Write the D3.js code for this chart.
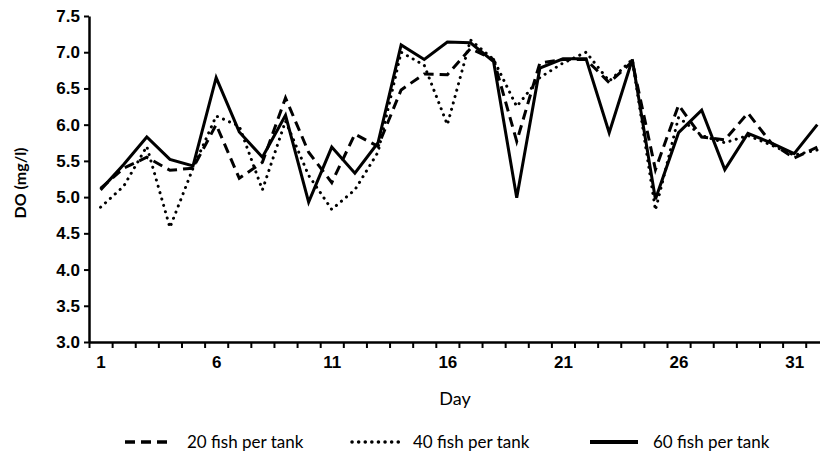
<!DOCTYPE html>
<html>
<head>
<meta charset="utf-8">
<script src="https://cdn.jsdelivr.net/npm/d3@7"></script>
<style>
  body { margin: 0; background: #fff; }
  svg { display: block; font-family: Lato, "Open Sans", sans-serif; }
</style>
</head>
<body>
<svg width="820" height="457"></svg>
<script>
var svg = d3.select("svg");

// days on the x axis
var days = d3.range(1, 33);

// DO (mg/l) for each stocking density
var fish20 = [5.12, 5.4, 5.55, 5.37, 5.4, 6.0, 5.26, 5.48, 6.37, 5.62, 5.2, 5.87, 5.7, 6.48, 6.7, 6.69, 7.05, 6.9, 5.77, 6.85, 6.9, 6.9, 6.58, 6.87, 5.38, 6.27, 5.83, 5.79, 6.16, 5.75, 5.54, 5.69];
var fish40 = [4.86, 5.15, 5.7, 4.58, 5.4, 6.12, 5.98, 5.1, 6.05, 5.3, 4.83, 5.1, 5.62, 7.0, 6.82, 6.0, 7.17, 6.9, 6.25, 6.65, 6.85, 7.0, 6.6, 6.9, 4.82, 6.1, 5.85, 5.75, 5.85, 5.72, 5.58, 5.65];
var fish60 = [5.1, 5.45, 5.83, 5.52, 5.43, 6.65, 5.9, 5.55, 6.13, 4.93, 5.69, 5.33, 5.75, 7.1, 6.9, 7.14, 7.13, 6.87, 4.99, 6.78, 6.91, 6.91, 5.89, 6.9, 4.97, 5.89, 6.2, 5.38, 5.88, 5.75, 5.6, 6.0];

var seriesNames = ["20 fish per tank", "40 fish per tank", "60 fish per tank"];
var yTicks = [3.0, 3.5, 4.0, 4.5, 5.0, 5.5, 6.0, 6.5, 7.0, 7.5];
var xLabels = [1, 6, 11, 16, 21, 26, 31];

var plotLeft = 89, plotTop = 16, plotBottom = 342, step = 23.12;

var x = d3.scaleLinear().domain([0.5, 32.5]).range([plotLeft, plotLeft + 32 * step]);
var y = d3.scaleLinear().domain([3, 7.5]).range([plotBottom, plotTop]);

var series = [
  { name: seriesNames[0], values: fish20, dash: "10,6", cap: "butt" },
  { name: seriesNames[1], values: fish40, dash: "0.1,6.5", cap: "round" },
  { name: seriesNames[2], values: fish60, dash: null, cap: "butt" }
];

var line = d3.line()
  .x(function(d, i) { return x(days[i]); })
  .y(function(d) { return y(d); });

// lines
var g = svg.append("g");
g.selectAll("path.series")
  .data(series)
  .enter().append("path")
  .attr("class", "series")
  .attr("d", function(d) { return line(d.values); })
  .attr("fill", "none")
  .attr("stroke", "#000")
  .attr("stroke-width", 3)
  .attr("stroke-linejoin", "miter")
  .attr("stroke-linecap", function(d) { return d.cap; })
  .attr("stroke-dasharray", function(d) { return d.dash; });

// y axis
var yAxis = svg.append("g")
  .attr("transform", "translate(" + plotLeft + ",0)")
  .call(d3.axisLeft(y).tickValues(yTicks).tickFormat(d3.format(".1f")).tickSize(5).tickSizeOuter(0));
yAxis.select(".domain").attr("stroke-width", 2.5);
yAxis.selectAll(".tick line").attr("stroke-width", 2);
yAxis.selectAll("text")
  .attr("x", -9)
  .style("font-size", "17px")
  .style("font-weight", "bold")
  .attr("fill", "#000");

// x axis: ticks between categories, labels every 5 days
var xTickAxis = svg.append("g")
  .attr("transform", "translate(0," + plotBottom + ")")
  .call(d3.axisBottom(x).tickValues(d3.range(0.5, 33, 1)).tickFormat("").tickSize(6).tickSizeOuter(0));
xTickAxis.select(".domain").attr("stroke-width", 2.5);
xTickAxis.selectAll(".tick line").attr("stroke-width", 2);

var xLabelAxis = svg.append("g")
  .attr("transform", "translate(0," + plotBottom + ")")
  .call(d3.axisBottom(x).tickValues(xLabels).tickSize(0));
xLabelAxis.select(".domain").remove();
xLabelAxis.selectAll("text")
  .attr("y", 14)
  .style("font-size", "17px")
  .style("font-weight", "bold")
  .attr("fill", "#000");

// axis titles
svg.append("text")
  .attr("x", 455)
  .attr("y", 405)
  .attr("text-anchor", "middle")
  .style("font-size", "18px")
  .text("Day");

svg.append("text")
  .attr("transform", "translate(26,183) rotate(-90)")
  .attr("text-anchor", "middle")
  .style("font-size", "16px")
  .style("font-weight", "bold")
  .text("DO (mg/l)");

// legend
var legendX = [125, 352, 590];
var legend = svg.selectAll("g.legend")
  .data(series)
  .enter().append("g")
  .attr("class", "legend")
  .attr("transform", function(d, i) { return "translate(" + legendX[i] + ",442)"; });

legend.append("line")
  .attr("x1", 0).attr("x2", 48)
  .attr("y1", 0).attr("y2", 0)
  .attr("stroke", "#000")
  .attr("stroke-width", function(d, i) { return i === 2 ? 4 : 3.5; })
  .attr("stroke-linecap", function(d) { return d.cap; })
  .attr("stroke-dasharray", function(d) { return d.dash; });

legend.append("text")
  .attr("x", function(d, i) { return i === 1 ? 61 : (i === 0 ? 62 : 63); })
  .attr("y", 6)
  .style("font-size", "17px")
  .text(function(d) { return d.name; });
</script>
</body>
</html>
